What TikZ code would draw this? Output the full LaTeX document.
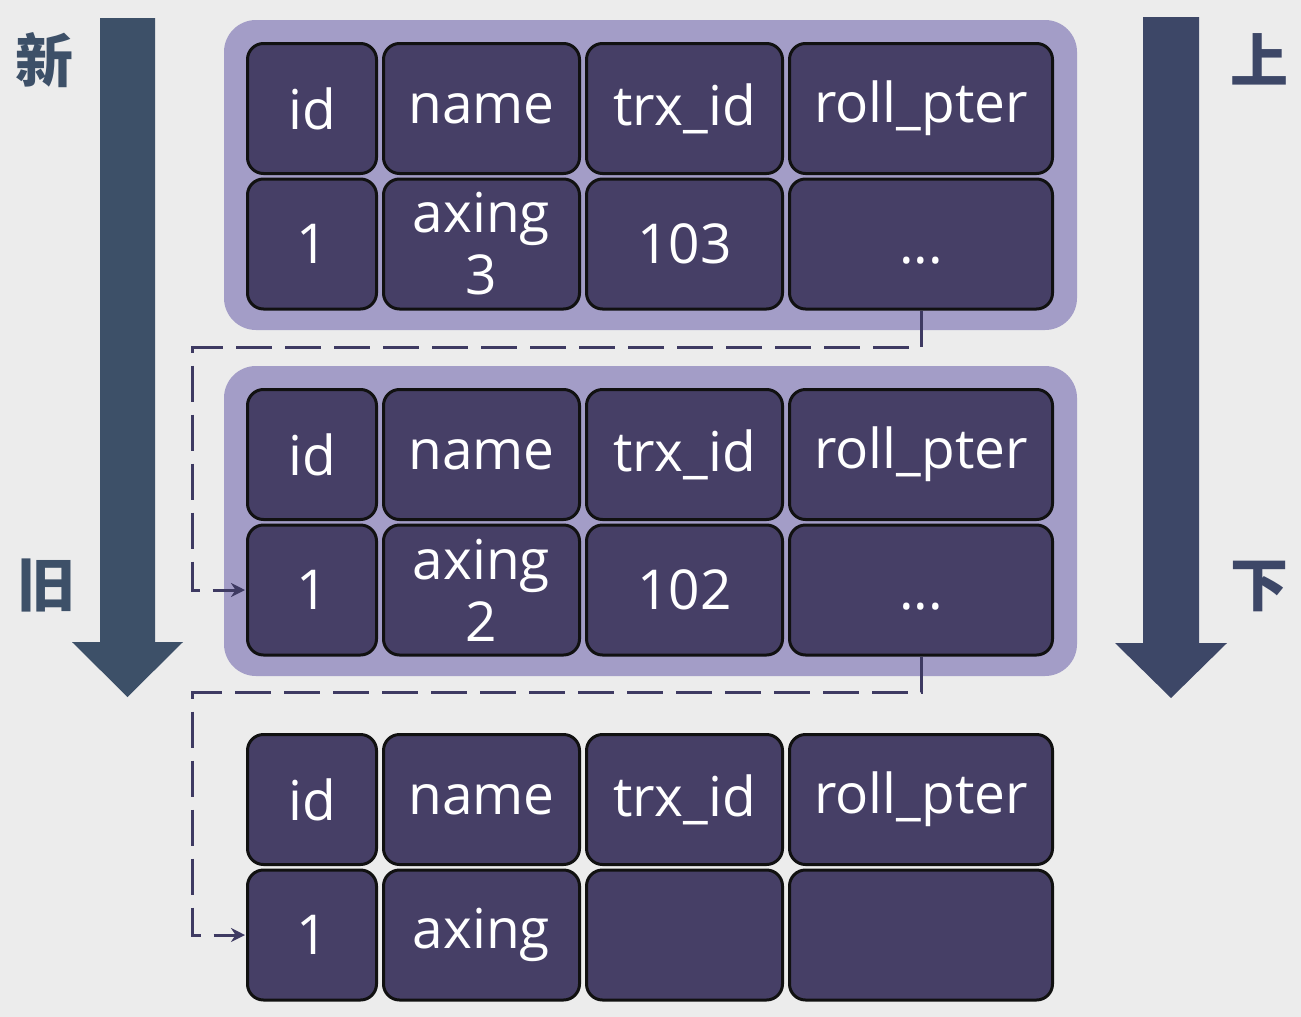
\documentclass[tikz,border=0pt]{standalone}
\usepackage{fontspec}
\setmainfont{Open Sans}
\newfontfamily\cjk{Noto Sans CJK SC}
\usetikzlibrary{arrows.meta,positioning}

\definecolor{bgcol}{HTML}{ECECEC}
\definecolor{bandcol}{HTML}{A39DC7}
\definecolor{cellcol}{HTML}{463F66}
\definecolor{edgecol}{HTML}{111111}
\definecolor{linkcol}{HTML}{3E3A62}
\definecolor{agecol}{HTML}{3D5068}
\definecolor{poscol}{HTML}{3D4767}

\begin{document}
\begin{tikzpicture}[x=1pt, y=-1pt,
    cell/.style={draw=edgecol, line width=3pt, fill=cellcol, rounded corners=16pt,
        text=white, font=\fontsize{55}{62}\selectfont, align=center,
        inner sep=0pt, minimum height=130pt},
    c1/.style={cell, minimum width=129pt},
    c2/.style={cell, minimum width=196pt},
    c3/.style={cell, minimum width=196pt},
    c4/.style={cell, minimum width=263pt},
    band/.style={fill=bandcol, rounded corners=32pt, minimum width=853pt,
        minimum height=310pt, inner sep=0pt},
    link/.style={draw=linkcol, line width=3pt, dash pattern=on 36pt off 13pt,
        -{Stealth[length=14pt,width=14pt]}, shorten >=1pt},
    tag/.style={font=\cjk\bfseries\fontsize{58}{58}\selectfont, inner sep=0pt}
]

% Background
\fill[bgcol] (0,0) rectangle (1301,1017);
\useasboundingbox (0,0) rectangle (1301,1017);

% Big arrows
\fill[agecol] (100,18) -- (155,18) -- (155,642) -- (183,642) -- (127.5,697)
    -- (72,642) -- (100,642) -- cycle;
\fill[poscol] (1143,17) -- (1199,17) -- (1199,643) -- (1227,643) -- (1171,698)
    -- (1115,643) -- (1143,643) -- cycle;
\node[tag, text=agecol] (new) at (45,60) {新};
\node[tag, text=agecol] (old) at (46,585) {旧};
\node[tag, text=poscol] (up) at (1259,59) {上};
\node[tag, text=poscol] (down) at (1259,586) {下};

% Highlight bands
\node[band] (band1) at (650.5,175) {};
\node[band] (band2) at (650.5,521) {};

% Header rows
\foreach \t/\dy in {1/0, 2/346, 3/691} {
    \node[c1] (h\t c1) at (312,108.5+\dy) {id};
    \node[c2] (h\t c2) at (481.5,108.5+\dy) {name};
    \node[c3] (h\t c3) at (684.5,108.5+\dy) {trx\_id};
    \node[c4] (h\t c4) at (921,108.5+\dy) {roll\_pter};
}

% Version 1 (newest)
\node[c1] (d1c1) at (312,244) {1};
\node[c2] (d1c2) at (481.5,244) {axing\\3};
\node[c3] (d1c3) at (684.5,244) {103};
\node[c4] (d1c4) at (921,244) {\vphantom{1}...};

% Version 2
\node[c1] (d2c1) at (312,590) {1};
\node[c2] (d2c2) at (481.5,590) {axing\\2};
\node[c3] (d2c3) at (684.5,590) {102};
\node[c4] (d2c4) at (921,590) {\vphantom{1}...};

% Version 3 (oldest)
\node[c1] (d3c1) at (312,935) {1};
\node[c2] (d3c2) at (481.5,935) {axing};
\node[c3] (d3c3) at (684.5,935) {};
\node[c4] (d3c4) at (921,935) {};

% Undo chain
\coordinate (turn1) at (192,347);
\coordinate (turn2) at (192,692);
\draw[link] (d1c4.south) |- (turn1) |- (d2c1.west);
\draw[link] (d2c4.south) |- (turn2) |- (d3c1.west);

\end{tikzpicture}
\end{document}
